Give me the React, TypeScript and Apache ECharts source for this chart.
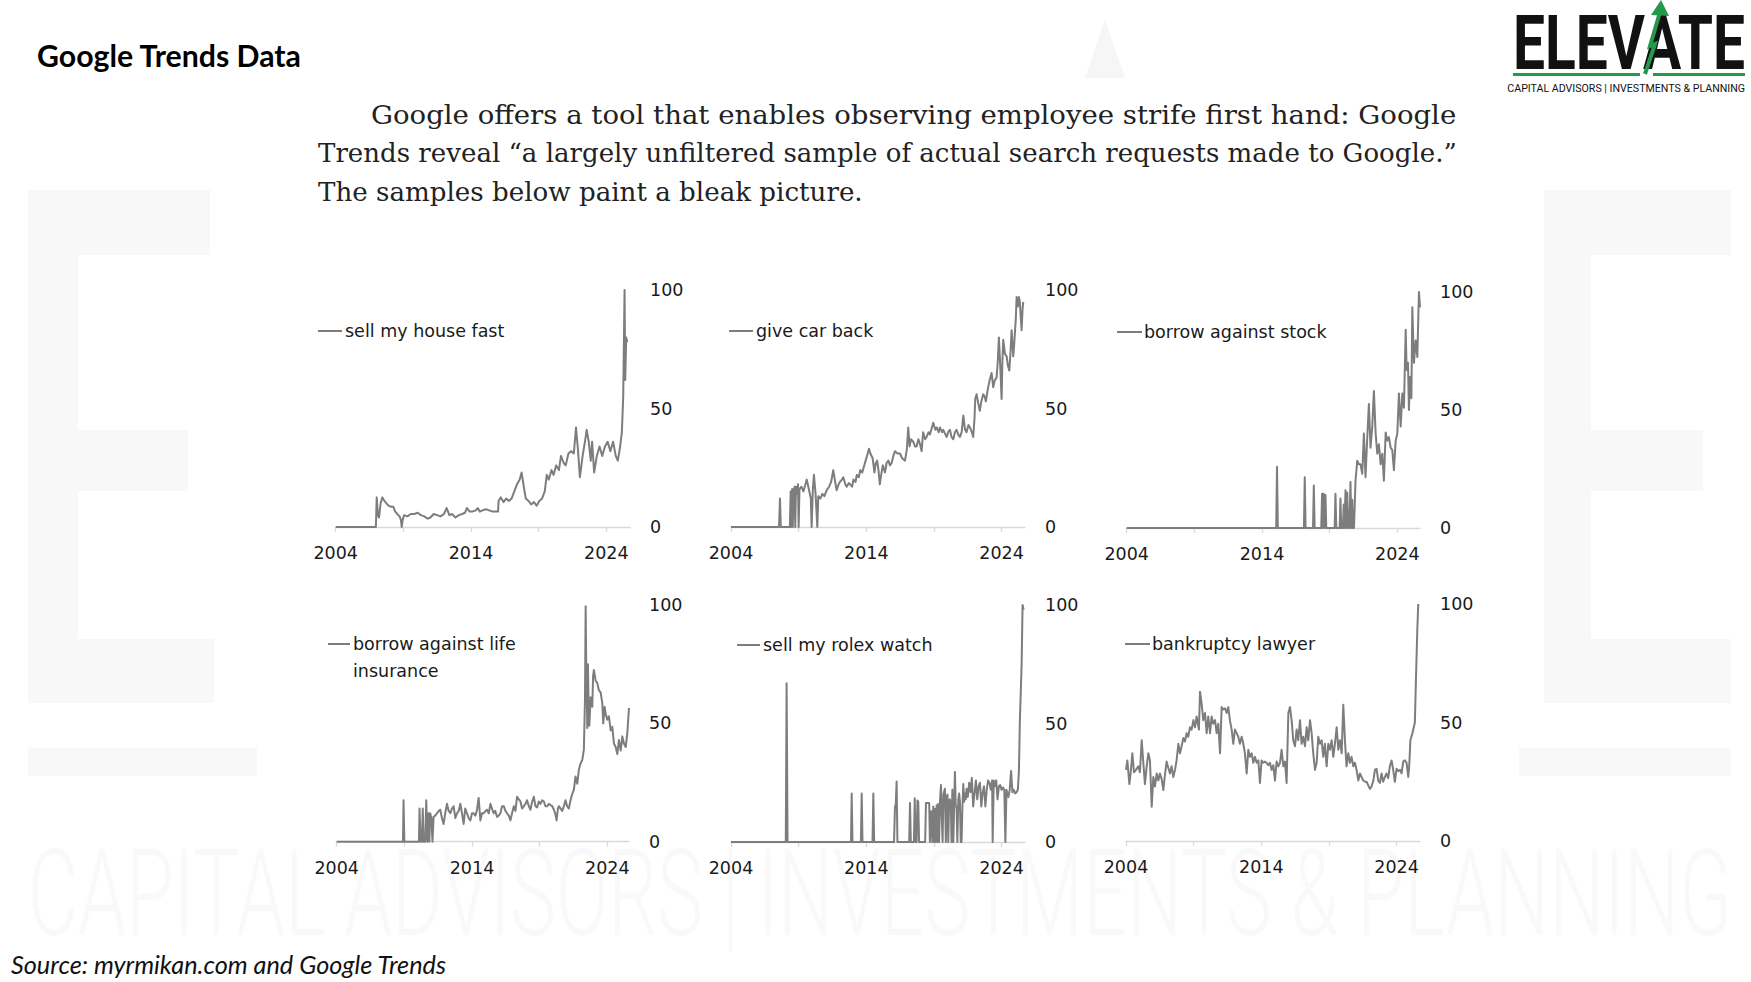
import React, { useEffect, useRef } from 'react';
import * as echarts from 'echarts';

const W = 1751;
const H = 982;

const titleText = 'Google Trends Data';
const sourceText = 'Source: myrmikan.com and Google Trends';
const paragraphLines = [
  'Google offers a tool that enables observing employee strife first hand: Google',
  'Trends reveal \u201ca largely unfiltered sample of actual search requests made to Google.\u201d',
  'The samples below paint a bleak picture.',
];
const logoText = 'ELEVATE';
const logoSubText = 'CAPITAL ADVISORS | INVESTMENTS & PLANNING';

const seriesNames = [
  'sell my house fast',
  'give car back',
  'borrow against stock',
  'borrow against life\ninsurance',
  'sell my rolex watch',
  'bankruptcy lawyer',
];

const xTickYears = [2004, 2009, 2014, 2019, 2024];
const xLabelYears = [2004, 2014, 2024];

const sellMyHouseFast = [
  [2004, 0], [2006.97, 0], [2007.03, 12.5], [2007.12, 5], [2007.2, 4], [2007.32, 10], [2007.45, 12.5], [2007.6, 11],
  [2007.75, 10], [2007.9, 9], [2008.1, 8.5], [2008.26, 8.5], [2008.4, 6.5], [2008.55, 5.5], [2008.72, 4.5], [2008.82, 3],
  [2008.88, 0], [2008.95, 3], [2009.05, 5], [2009.3, 4.5], [2009.55, 5.5], [2009.8, 5.5], [2010.05, 6], [2010.3, 5],
  [2010.55, 4.5], [2010.8, 3.5], [2011.0, 4], [2011.25, 5.5], [2011.5, 5], [2011.75, 4.5], [2012.0, 5.5], [2012.2, 8],
  [2012.4, 5], [2012.6, 5.5], [2012.85, 4], [2013.1, 5], [2013.35, 5.5], [2013.55, 6], [2013.7, 8], [2013.9, 6.5],
  [2014.1, 6.5], [2014.35, 7], [2014.5, 8], [2014.65, 6.5], [2014.85, 7], [2015.1, 7.5], [2015.35, 7], [2015.6, 6.5],
  [2015.85, 6.5], [2016.0, 6.5], [2016.04, 11], [2016.2, 12.5], [2016.4, 10.5], [2016.6, 12], [2016.8, 11], [2017.0, 12],
  [2017.2, 15], [2017.4, 18], [2017.6, 20], [2017.74, 23], [2017.9, 17], [2018.05, 12], [2018.25, 11], [2018.45, 9.5],
  [2018.65, 10.5], [2018.85, 9], [2019.05, 11], [2019.25, 12], [2019.45, 15], [2019.6, 22], [2019.75, 20], [2019.95, 24],
  [2020.1, 22], [2020.3, 26], [2020.5, 24], [2020.65, 30], [2020.85, 27], [2021.0, 26], [2021.2, 31], [2021.4, 32],
  [2021.6, 31], [2021.76, 42], [2021.9, 33], [2022.05, 21], [2022.25, 30], [2022.45, 37], [2022.55, 41], [2022.7, 36],
  [2022.85, 28], [2022.95, 36], [2023.1, 23], [2023.3, 30], [2023.5, 34], [2023.7, 30], [2023.9, 34], [2024.1, 36],
  [2024.3, 32], [2024.5, 36], [2024.7, 30], [2024.85, 28], [2025.0, 33], [2025.15, 40], [2025.25, 55], [2025.35, 100],
  [2025.4, 62], [2025.47, 80], [2025.55, 78],
];

const giveCarBack = [
  [2004, 0], [2007.55, 0], [2007.62, 12], [2007.68, 0], [2008.35, 0], [2008.41, 15], [2008.46, 0], [2008.52, 16],
  [2008.57, 0], [2008.62, 15], [2008.7, 17], [2008.75, 0], [2008.8, 17], [2008.88, 14], [2008.95, 18], [2009.0, 0],
  [2009.06, 16], [2009.2, 17], [2009.35, 15], [2009.5, 18], [2009.6, 20], [2009.75, 16], [2009.9, 12], [2009.96, 0],
  [2010.05, 16], [2010.13, 22], [2010.25, 14], [2010.38, 0], [2010.45, 13], [2010.6, 12], [2010.75, 14], [2010.9, 13],
  [2011.07, 15.5], [2011.25, 17], [2011.4, 19], [2011.56, 24], [2011.7, 19], [2011.81, 15.5], [2011.95, 18], [2012.05, 19],
  [2012.2, 20], [2012.3, 21], [2012.45, 18], [2012.55, 17], [2012.7, 18.5], [2012.8, 18], [2012.95, 17], [2013.05, 20],
  [2013.2, 19], [2013.3, 22], [2013.45, 21], [2013.55, 24], [2013.7, 23], [2013.8, 25], [2013.95, 28], [2014.05, 30],
  [2014.2, 33], [2014.3, 31], [2014.47, 29], [2014.6, 23], [2014.7, 27], [2014.8, 28], [2014.9, 24], [2015.0, 18],
  [2015.1, 22], [2015.22, 26], [2015.38, 23], [2015.5, 27], [2015.63, 28], [2015.75, 26], [2015.87, 27], [2016.0, 30],
  [2016.12, 32], [2016.3, 31], [2016.49, 31], [2016.65, 29], [2016.86, 28], [2017.0, 33], [2017.1, 42], [2017.2, 34],
  [2017.3, 37], [2017.47, 36], [2017.6, 34], [2017.72, 34], [2017.85, 37], [2017.97, 35], [2018.09, 32], [2018.2, 40],
  [2018.35, 37], [2018.46, 38], [2018.6, 40], [2018.7, 39], [2018.85, 42], [2018.95, 44], [2019.1, 41], [2019.2, 42],
  [2019.35, 40], [2019.44, 42], [2019.6, 40], [2019.69, 41], [2019.85, 39], [2019.94, 38], [2020.05, 40], [2020.18, 41],
  [2020.3, 38], [2020.43, 37], [2020.55, 40], [2020.67, 41], [2020.8, 39], [2020.92, 38], [2021.05, 40], [2021.17, 47],
  [2021.3, 41], [2021.41, 40], [2021.55, 43], [2021.66, 42], [2021.8, 40], [2021.9, 38], [2022.0, 46], [2022.05, 54],
  [2022.15, 56], [2022.28, 52], [2022.39, 49], [2022.5, 53], [2022.64, 56], [2022.75, 55], [2022.84, 53], [2022.95, 57],
  [2023.01, 59], [2023.12, 62], [2023.26, 65], [2023.38, 59], [2023.5, 62], [2023.63, 63], [2023.72, 70], [2023.8, 80],
  [2023.9, 68], [2024.0, 54], [2024.06, 70], [2024.12, 79], [2024.25, 73], [2024.37, 72], [2024.47, 68], [2024.57, 66],
  [2024.66, 74], [2024.74, 83], [2024.86, 72], [2024.94, 78], [2025.05, 88], [2025.11, 97], [2025.2, 93], [2025.28, 97],
  [2025.35, 95], [2025.42, 88], [2025.48, 83], [2025.55, 92], [2025.6, 95],
];

const borrowAgainstStock = [
  [2004, 0], [2015.05, 0], [2015.11, 26], [2015.17, 0], [2017.1, 0], [2017.16, 21.5], [2017.22, 0], [2017.77, 0],
  [2017.83, 18], [2017.89, 0], [2018.38, 0], [2018.44, 14.5], [2018.5, 0], [2018.56, 14.5], [2018.63, 0], [2018.69, 14],
  [2018.75, 0], [2019.37, 0], [2019.43, 14.5], [2019.49, 0], [2019.74, 0], [2019.8, 12.5], [2019.86, 0], [2019.98, 0],
  [2020.04, 10], [2020.1, 0], [2020.17, 16], [2020.23, 0], [2020.3, 15], [2020.36, 0], [2020.45, 0], [2020.54, 19.5],
  [2020.6, 0], [2020.67, 12], [2020.73, 0], [2020.8, 0], [2020.91, 20], [2021.04, 28.5], [2021.16, 27], [2021.28, 27],
  [2021.41, 23], [2021.53, 40], [2021.65, 21.5], [2021.78, 38.5], [2021.9, 52.5], [2022.02, 34], [2022.15, 43], [2022.27, 58],
  [2022.4, 40], [2022.52, 31.5], [2022.64, 35.5], [2022.77, 27], [2022.89, 31.5], [2023.01, 20], [2023.14, 40.5], [2023.26, 37],
  [2023.38, 38.5], [2023.51, 34], [2023.63, 33], [2023.75, 24.5], [2023.88, 37], [2024.0, 40], [2024.12, 57], [2024.25, 43],
  [2024.37, 57], [2024.49, 51], [2024.62, 84], [2024.69, 67], [2024.79, 70], [2024.86, 50], [2024.94, 64], [2025.04, 55],
  [2025.11, 93.5], [2025.23, 70], [2025.36, 79.5], [2025.48, 72.5], [2025.6, 100], [2025.68, 93.5],
];

const borrowAgainstLifeInsurance = [
  [2004, 0], [2008.9, 0], [2008.94, 17.5], [2009.0, 0], [2010.08, 0], [2010.12, 14], [2010.2, 0], [2010.3, 0],
  [2010.36, 14], [2010.42, 0], [2010.54, 0], [2010.62, 17.5], [2010.7, 0], [2010.79, 12], [2010.85, 0], [2010.91, 12],
  [2011.0, 10], [2011.08, 0], [2011.16, 10.5], [2011.28, 11], [2011.41, 12], [2011.55, 13], [2011.65, 13.5], [2011.78, 10],
  [2011.9, 7.5], [2012.02, 12], [2012.15, 16], [2012.28, 13], [2012.4, 12], [2012.52, 14], [2012.64, 15], [2012.77, 10],
  [2012.89, 12], [2013.02, 13], [2013.14, 16], [2013.26, 12], [2013.38, 7.5], [2013.5, 14], [2013.63, 12], [2013.75, 10],
  [2013.88, 9], [2014.0, 12], [2014.12, 12], [2014.25, 11], [2014.37, 13.5], [2014.49, 18.5], [2014.62, 9], [2014.74, 12],
  [2014.86, 12], [2015.0, 13], [2015.11, 13.5], [2015.24, 12], [2015.36, 16], [2015.48, 14], [2015.6, 12], [2015.72, 13],
  [2015.85, 10.5], [2015.97, 11], [2016.1, 12], [2016.22, 15], [2016.35, 15], [2016.47, 13], [2016.59, 12], [2016.72, 11],
  [2016.84, 9], [2016.96, 12], [2017.09, 15], [2017.21, 13], [2017.33, 19], [2017.45, 18], [2017.58, 17], [2017.7, 14],
  [2017.83, 15], [2017.95, 16], [2018.07, 17.5], [2018.2, 15], [2018.32, 13.5], [2018.45, 17], [2018.57, 19], [2018.69, 15],
  [2018.81, 14.5], [2018.94, 17], [2019.06, 16], [2019.19, 17.5], [2019.31, 17], [2019.43, 15], [2019.56, 15], [2019.68, 16],
  [2019.8, 15.5], [2019.93, 15], [2020.05, 13.5], [2020.15, 12], [2020.25, 9], [2020.35, 14], [2020.42, 15], [2020.55, 14],
  [2020.67, 13], [2020.79, 15], [2020.91, 17.5], [2021.03, 15], [2021.16, 14], [2021.28, 17.5], [2021.4, 20], [2021.53, 22],
  [2021.65, 27.5], [2021.78, 24.5], [2021.9, 30.5], [2022.02, 33], [2022.15, 34.5], [2022.27, 39], [2022.35, 60], [2022.4, 99.5],
  [2022.44, 75], [2022.47, 68], [2022.52, 48], [2022.57, 75], [2022.62, 56], [2022.67, 49], [2022.77, 61], [2022.89, 57],
  [2022.95, 70], [2023.01, 72.5], [2023.14, 68], [2023.26, 67], [2023.38, 64], [2023.51, 63], [2023.63, 58.5], [2023.7, 50],
  [2023.8, 57], [2023.88, 54], [2024.0, 51.5], [2024.12, 53], [2024.25, 47], [2024.37, 48.5], [2024.49, 41.5], [2024.62, 40],
  [2024.74, 37], [2024.86, 43], [2024.99, 38.5], [2025.11, 44.5], [2025.23, 41.5], [2025.36, 40], [2025.48, 46], [2025.6, 56.5],
];

const sellMyRolexWatch = [
  [2004, 0], [2008.05, 0], [2008.11, 67], [2008.18, 0], [2012.87, 0], [2012.92, 20.5], [2012.98, 0], [2013.6, 0],
  [2013.66, 20.5], [2013.72, 0], [2014.46, 0], [2014.52, 20.5], [2014.58, 0], [2016.05, 0], [2016.12, 15], [2016.18, 16],
  [2016.24, 25.5], [2016.3, 0], [2017.17, 0], [2017.23, 16.5], [2017.29, 0], [2017.52, 0], [2017.58, 18.5], [2017.64, 0],
  [2017.72, 0], [2017.78, 17.5], [2017.84, 17], [2017.9, 0], [2018.35, 0], [2018.41, 16.5], [2018.65, 16.5], [2018.7, 0],
  [2018.8, 13], [2018.88, 0], [2018.95, 15], [2019.02, 0], [2019.07, 14], [2019.14, 0], [2019.2, 15.5], [2019.27, 0],
  [2019.32, 16], [2019.38, 0], [2019.44, 16.5], [2019.52, 24], [2019.58, 10], [2019.64, 0], [2019.7, 20], [2019.81, 22.5],
  [2019.88, 0], [2019.94, 19], [2020.0, 20], [2020.06, 0], [2020.12, 17.5], [2020.18, 18], [2020.25, 15], [2020.3, 0],
  [2020.36, 22], [2020.43, 0], [2020.49, 15], [2020.55, 29.5], [2020.61, 15], [2020.67, 15], [2020.73, 0], [2020.8, 18],
  [2020.86, 20.5], [2020.92, 17], [2020.98, 0], [2021.04, 0], [2021.1, 14], [2021.17, 24.5], [2021.23, 17], [2021.29, 20.5],
  [2021.35, 18], [2021.41, 22.5], [2021.5, 19], [2021.6, 25], [2021.7, 21], [2021.8, 27], [2021.9, 15], [2022.0, 20.5],
  [2022.1, 26], [2022.2, 18], [2022.3, 23.5], [2022.4, 25], [2022.5, 15], [2022.6, 21], [2022.7, 23.5], [2022.8, 15],
  [2022.9, 22], [2023.0, 26], [2023.1, 25], [2023.2, 22], [2023.3, 26], [2023.34, 0], [2023.42, 26], [2023.5, 23.5],
  [2023.6, 26], [2023.7, 18], [2023.8, 23.5], [2023.9, 24], [2024.0, 22], [2024.1, 23], [2024.2, 22], [2024.28, 0],
  [2024.36, 22], [2024.5, 19], [2024.6, 22], [2024.7, 30], [2024.8, 21], [2024.9, 22], [2025.0, 20.5], [2025.1, 21],
  [2025.2, 22], [2025.28, 30], [2025.35, 51], [2025.48, 75], [2025.55, 100], [2025.63, 98],
];

const bankruptcyLawyer = [
  [2004.0, 30], [2004.1, 34], [2004.25, 24], [2004.34, 28.5], [2004.47, 37], [2004.59, 29], [2004.74, 30], [2004.91, 31.5],
  [2005.03, 29], [2005.16, 42.5], [2005.28, 33], [2005.4, 24], [2005.53, 31.5], [2005.65, 37], [2005.77, 34], [2005.9, 14.5],
  [2006.02, 27], [2006.14, 23], [2006.27, 28.5], [2006.39, 25.5], [2006.51, 28.5], [2006.64, 26], [2006.76, 21.5], [2006.88, 28],
  [2007.0, 33.5], [2007.12, 31], [2007.25, 28.5], [2007.37, 31.5], [2007.5, 27], [2007.62, 30], [2007.74, 34], [2007.87, 41],
  [2007.99, 37], [2008.11, 40], [2008.24, 43.5], [2008.36, 42], [2008.48, 45.5], [2008.6, 44], [2008.73, 48], [2008.85, 47],
  [2008.98, 51], [2009.1, 48], [2009.22, 52.5], [2009.39, 47], [2009.47, 63], [2009.59, 58], [2009.71, 51], [2009.84, 54],
  [2009.96, 45.5], [2010.08, 52.5], [2010.21, 45.5], [2010.33, 52.5], [2010.45, 49.5], [2010.58, 51], [2010.7, 45.5], [2010.82, 49.5],
  [2010.95, 37], [2011.07, 56.5], [2011.19, 55.5], [2011.32, 56], [2011.44, 54], [2011.56, 56.5], [2011.68, 51], [2011.81, 47],
  [2011.93, 41], [2012.05, 47], [2012.18, 45.5], [2012.3, 44], [2012.42, 41], [2012.55, 44], [2012.67, 41], [2012.79, 37],
  [2012.92, 28.5], [2013.04, 38.5], [2013.16, 35.5], [2013.29, 37], [2013.41, 33], [2013.53, 35.5], [2013.66, 33], [2013.78, 34],
  [2013.9, 24.5], [2014.02, 34], [2014.15, 33], [2014.27, 33.5], [2014.39, 33], [2014.52, 32], [2014.64, 33], [2014.76, 30],
  [2014.89, 32], [2015.01, 25.5], [2015.13, 33.5], [2015.26, 31.5], [2015.38, 33], [2015.5, 38.5], [2015.63, 31.5], [2015.75, 33.5],
  [2015.87, 24.5], [2016.0, 54], [2016.12, 56.5], [2016.24, 51], [2016.36, 42.5], [2016.49, 40], [2016.61, 47], [2016.73, 42.5],
  [2016.86, 51], [2016.98, 41], [2017.1, 44], [2017.23, 40], [2017.35, 48], [2017.47, 42.5], [2017.6, 51], [2017.72, 45.5],
  [2017.84, 37], [2017.97, 30], [2018.09, 33], [2018.21, 44], [2018.33, 41], [2018.46, 42.5], [2018.58, 35.5], [2018.7, 41],
  [2018.83, 31.5], [2018.95, 41], [2019.07, 38.5], [2019.2, 42.5], [2019.32, 35.5], [2019.44, 41], [2019.57, 48], [2019.69, 38.5],
  [2019.81, 42.5], [2019.94, 37], [2020.06, 57.5], [2020.18, 42.5], [2020.3, 31.5], [2020.43, 37], [2020.55, 33], [2020.67, 35.5],
  [2020.8, 31.5], [2020.92, 33], [2021.04, 30], [2021.17, 25.5], [2021.29, 28.5], [2021.41, 27], [2021.54, 25.5], [2021.66, 25],
  [2021.78, 25], [2021.9, 23.5], [2022.03, 22], [2022.15, 23], [2022.28, 25.5], [2022.4, 30], [2022.52, 30.5], [2022.64, 25.5],
  [2022.77, 24.5], [2022.89, 28.5], [2023.01, 25], [2023.14, 27], [2023.26, 28.5], [2023.38, 26.5], [2023.5, 31.5], [2023.63, 34],
  [2023.75, 30], [2023.87, 25], [2024.0, 30.5], [2024.12, 29.5], [2024.25, 30], [2024.37, 28.5], [2024.49, 33.5], [2024.61, 34],
  [2024.74, 33], [2024.86, 27], [2024.93, 31.5], [2025.02, 42.5], [2025.17, 45.5], [2025.35, 50], [2025.43, 68], [2025.53, 89],
  [2025.6, 100],
];

const seriesData = [
  sellMyHouseFast,
  giveCarBack,
  borrowAgainstStock,
  borrowAgainstLifeInsurance,
  sellMyRolexWatch,
  bankruptcyLawyer,
];

// layout of the six small panels (pixels)
const panels = [
  { left: 335.7, top: 290, width: 294.3, height: 237, lx1: 318, lx2: 342, ly: 331, tx: 345 },
  { left: 731, top: 290, width: 294, height: 237, lx1: 729, lx2: 753, ly: 331, tx: 756 },
  { left: 1126.7, top: 292, width: 293.3, height: 236, lx1: 1117, lx2: 1142, ly: 332, tx: 1144 },
  { left: 336.7, top: 605, width: 292.3, height: 236.7, lx1: 328, lx2: 350, ly: 644, tx: 353 },
  { left: 731, top: 605, width: 294, height: 237, lx1: 737, lx2: 760, ly: 645, tx: 763 },
  { left: 1126, top: 604, width: 294, height: 237, lx1: 1125, lx2: 1150, ly: 644, tx: 1152 },
];
const PX_PER_YEAR = 13.53;

const LINE_COLOR = '#7d7d7d';
const AXIS_COLOR = '#d9d9d9';
const TEXT_COLOR = '#1a1a1a';
const SANS = '"DejaVu Sans", sans-serif';
const SERIF = '"DejaVu Serif", serif';
const WM = '#f8f8f8';

function buildOption() {
  const ctx = document.createElement('canvas').getContext('2d') as CanvasRenderingContext2D;
  const measure = (t: string, font: string) => {
    ctx.font = font;
    return ctx.measureText(t).width;
  };

  // paragraph sizing
  const pFs = (100 * 545) / measure(paragraphLines[2], `100px ${SERIF}`);
  const paraSpecs = [
    { x: 371, y: 115, target: 1085 },
    { x: 318, y: 153, target: 1138 },
    { x: 318, y: 192, target: 0 },
  ];
  const paraEls = paragraphLines.map((t, i) => {
    const sp = paraSpecs[i];
    const nat = measure(t, `${pFs}px ${SERIF}`);
    const sx = sp.target ? sp.target / nat : 1;
    return {
      type: 'text', x: sp.x, y: sp.y, scaleX: sx, z: 10,
      style: { text: t, x: 0, y: 0, fontFamily: SERIF, fontSize: pFs, fill: '#222', align: 'left', verticalAlign: 'middle', textAlign: 'left', textVerticalAlign: 'middle' },
    };
  });

  const titleFs = (100 * 265) / measure(titleText, `bold 100px Lato`);
  const srcFs = (100 * 436) / measure(sourceText, `italic 100px Lato`);

  const logoFs = 76;
  const logoSx = 232 / measure(logoText, `bold ${logoFs}px Roboto`);
  const subFs = 11.5;
  const subSx = 238 / measure(logoSubText, `${subFs}px Roboto`);
  const wmFs = 120;
  const wmSx = 1703 / measure(logoSubText, `300 ${wmFs}px Roboto`);

  const rect = (x: number, y: number, w: number, h: number, fill = WM) => ({
    type: 'rect', z: 0, silent: true, shape: { x, y, width: w, height: h }, style: { fill },
  });

  const watermark = [
    rect(28, 190, 182, 65), rect(28, 190, 50, 513), rect(28, 430, 160, 61), rect(28, 639, 186, 64), rect(28, 748, 229, 28),
    rect(1544, 190, 187, 65), rect(1544, 190, 47, 513), rect(1544, 430, 159, 61), rect(1544, 639, 187, 64), rect(1519, 748, 212, 28),
    { type: 'polygon', z: 0, silent: true, shape: { points: [[1105, 20], [1085, 78], [1125, 78]] }, style: { fill: '#f6f6f6' } },
    {
      type: 'text', x: 28, y: 894, scaleX: wmSx, z: 0, silent: true,
      style: { text: logoSubText, x: 0, y: 0, fontFamily: 'Roboto', fontWeight: 300, fontSize: wmFs, fill: '#f9f9f9', align: 'left', verticalAlign: 'middle', textAlign: 'left', textVerticalAlign: 'middle' },
    },
  ];

  const logo = [
    {
      type: 'text', x: 1513, y: 43, scaleX: logoSx, z: 10,
      style: { text: logoText, x: 0, y: 0, fontFamily: 'Roboto', fontWeight: 'bold', fontSize: logoFs, fill: '#111', align: 'left', verticalAlign: 'middle', textAlign: 'left', textVerticalAlign: 'middle' },
    },
    rect(1513, 73, 127, 3, '#23994a'),
    rect(1653, 73, 92, 3, '#23994a'),
    { type: 'polyline', z: 11, shape: { points: [[1645, 74], [1655, 44], [1650, 46], [1660, 12]] }, style: { stroke: '#23994a', lineWidth: 4, fill: null } },
    { type: 'polygon', z: 11, shape: { points: [[1651, 15], [1661, 0], [1669, 16]] }, style: { fill: '#23994a' } },
    {
      type: 'text', x: 1745, y: 88, scaleX: subSx, z: 10,
      style: { text: logoSubText, x: 0, y: 0, fontFamily: 'Roboto', fontSize: subFs, fill: '#111', align: 'right', verticalAlign: 'middle', textAlign: 'right', textVerticalAlign: 'middle' },
    },
  ];

  const texts = [
    {
      type: 'text', x: 37, y: 55, z: 10,
      style: { text: titleText, x: 0, y: 0, fontFamily: 'Lato', fontWeight: 'bold', fontSize: titleFs, fill: '#000', align: 'left', verticalAlign: 'middle', textAlign: 'left', textVerticalAlign: 'middle' },
    },
    {
      type: 'text', x: 11, y: 964, z: 10,
      style: { text: sourceText, x: 0, y: 0, fontFamily: 'Lato', fontStyle: 'italic', fontSize: srcFs, fill: '#111', align: 'left', verticalAlign: 'middle', textAlign: 'left', textVerticalAlign: 'middle' },
    },
  ];

  const legends: any[] = [];
  panels.forEach((p, i) => {
    legends.push({
      type: 'line', z: 10, shape: { x1: p.lx1, y1: p.ly, x2: p.lx2, y2: p.ly }, style: { stroke: LINE_COLOR, lineWidth: 2 },
    });
    legends.push({
      type: 'text', x: p.tx, y: p.ly - 13.5, z: 10,
      style: { text: seriesNames[i], x: 0, y: 0, fontFamily: SANS, fontSize: 17.5, lineHeight: 27, fill: TEXT_COLOR, align: 'left', verticalAlign: 'top', textAlign: 'left', textVerticalAlign: 'top' },
    });
  });

  const grid = panels.map((p) => ({ left: p.left, top: p.top, width: p.width, height: p.height, containLabel: false }));
  const xAxis = panels.map((p, i) => ({
    type: 'value', gridIndex: i, min: 2004, max: 2004 + p.width / PX_PER_YEAR,
    axisLine: { show: true, lineStyle: { color: AXIS_COLOR, width: 1.3 } },
    axisTick: { show: true, customValues: xTickYears, length: 5, lineStyle: { color: AXIS_COLOR, width: 1.3 } },
    axisLabel: { show: true, customValues: xLabelYears, margin: 17, color: TEXT_COLOR, fontFamily: SANS, fontSize: 17.5, formatter: (v: number) => String(Math.round(v)) },
    splitLine: { show: false },
  }));
  const yAxis = panels.map((p, i) => ({
    type: 'value', gridIndex: i, position: 'right', min: 0, max: 100, interval: 50,
    axisLine: { show: false }, axisTick: { show: false }, splitLine: { show: false },
    axisLabel: { margin: 20, color: TEXT_COLOR, fontFamily: SANS, fontSize: 17.5 },
  }));
  const series = seriesData.map((d, i) => ({
    type: 'line', name: seriesNames[i], xAxisIndex: i, yAxisIndex: i, data: d,
    showSymbol: false, symbol: 'none', clip: false, silent: true,
    lineStyle: { color: LINE_COLOR, width: 2, join: 'round' },
  }));

  return {
    animation: false,
    backgroundColor: '#ffffff',
    grid, xAxis, yAxis, series,
    graphic: { elements: [...watermark, ...logo, ...texts, ...paraEls, ...legends] },
  };
}

export default function App() {
  const ref = useRef<HTMLDivElement>(null);
  useEffect(() => {
    document.body.style.margin = '0';
    document.body.style.overflow = 'hidden';
    const chart = echarts.init(ref.current as HTMLDivElement, null, { renderer: 'svg', width: W, height: H });
    chart.setOption(buildOption() as any);
    return () => chart.dispose();
  }, []);
  return <div ref={ref} style={{ width: W, height: H }} />;
}
